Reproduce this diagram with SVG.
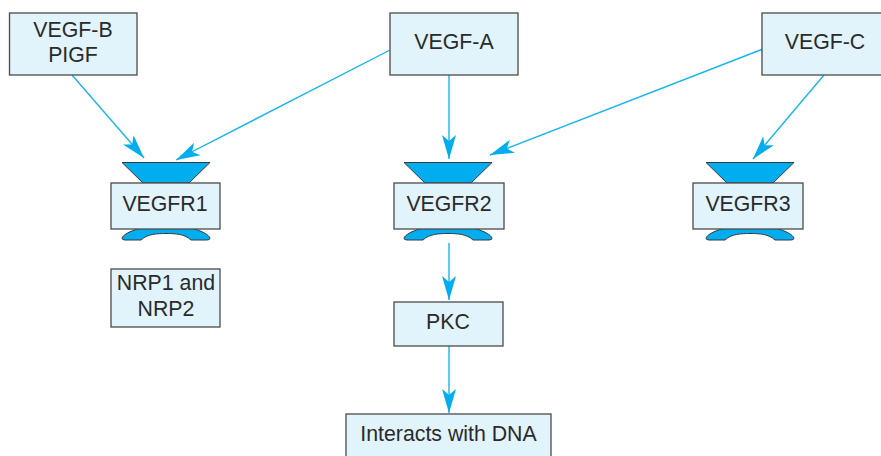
<svg xmlns="http://www.w3.org/2000/svg" width="881" height="456" viewBox="0 0 881 456">
<style>
.box{fill:#e1f3fb;stroke:#4a4a4c;stroke-width:1.3}
.t{font-family:"Liberation Sans",Arial,sans-serif;font-size:21.3px;fill:#2a2a2c;text-anchor:middle}
.c{fill:none;stroke:#19b5ec;stroke-width:1.4;marker-end:url(#a)}
.r{fill:#00adef;stroke:#3a3a3c;stroke-width:1}
</style>
<defs>
<marker id="a" markerUnits="userSpaceOnUse" markerWidth="26" markerHeight="16" refX="24" refY="8" orient="auto">
<path d="M0 1L24 8L0 15L6 8Z" fill="#00adef"/>
</marker>
<g id="rc">
<path class="r" d="M-44 -20.500H44L23 0H-23Z"/>
<path class="r" d="M-27 45.500H27C36 48 43 52 44 55Q44 57 41 57H25C19 51 9 50.500 0 50.500C-9 50.500 -19 51 -25 57H-41Q-44 57 -44 55C-43 52 -36 48 -27 45.500Z"/>
</g>
</defs>
<g id="connectors">
<path class="c" d="M72 75L144 158"/>
<path class="c" d="M390 50L176 160"/>
<path class="c" d="M449 75V159"/>
<path class="c" d="M763 49L490 155"/>
<path class="c" d="M824 75L753 159"/>
<path class="c" d="M449 243V300"/>
<path class="c" d="M449 346V413"/>
</g>
<g id="vegfb"><rect class="box" x="9.500" y="13" width="127.500" height="62"/><text class="t" x="73" y="37">VEGF-B</text><text class="t" x="73" y="62">PIGF</text></g>
<g id="vegfa"><rect class="box" x="390" y="13" width="128" height="62"/><text class="t" x="454" y="49">VEGF-A</text></g>
<g id="vegfc"><rect class="box" x="762" y="13" width="125" height="62"/><text class="t" x="825" y="49">VEGF-C</text></g>
<g id="vegfr1"><use href="#rc" x="166" y="183"/><rect class="box" x="111" y="183" width="109" height="46"/><text class="t" x="165" y="211">VEGFR1</text></g>
<g id="vegfr2"><use href="#rc" x="448" y="183"/><rect class="box" x="394" y="183" width="110" height="46"/><text class="t" x="449" y="211">VEGFR2</text></g>
<g id="vegfr3"><use href="#rc" x="750" y="183"/><rect class="box" x="693" y="183" width="110" height="46"/><text class="t" x="748" y="211">VEGFR3</text></g>
<g id="nrp"><rect class="box" x="111" y="269" width="109" height="58"/><text class="t" x="166" y="290">NRP1 and</text><text class="t" x="166" y="316">NRP2</text></g>
<g id="pkc"><rect class="box" x="394" y="302" width="109" height="44"/><text class="t" x="448" y="329">PKC</text></g>
<g id="dna"><rect class="box" x="346" y="414" width="205" height="50"/><text class="t" x="448.500" y="441">Interacts with DNA</text></g>
</svg>
